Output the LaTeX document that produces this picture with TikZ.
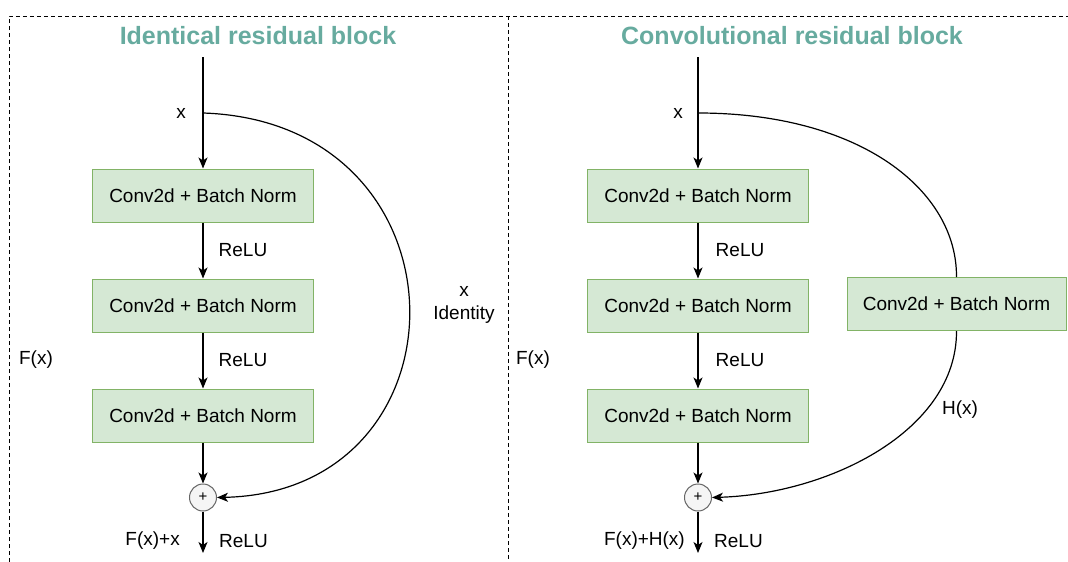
\documentclass[tikz,border=0pt]{standalone}
\usepackage{fontspec}
\setmainfont{Liberation Sans}
\usetikzlibrary{arrows.meta}
\definecolor{titlegreen}{HTML}{67AB9F}
\definecolor{boxfill}{HTML}{D5E8D4}
\definecolor{boxline}{HTML}{82B366}
\definecolor{sumfill}{HTML}{F5F5F5}
\definecolor{sumline}{HTML}{666666}
\tikzset{
  layer/.style={draw=boxline, fill=boxfill, line width=1pt, minimum width=221pt,
    minimum height=53pt, inner sep=0pt, font=\fontsize{19}{22}\selectfont},
  lbl/.style={inner sep=0pt, font=\fontsize{19}{22}\selectfont, align=center},
  title/.style={inner sep=0pt, text=titlegreen, font=\fontsize{25}{28}\selectfont\bfseries},
  sum/.style={circle, draw=sumline, fill=sumfill, line width=1pt, minimum size=27pt,
    inner sep=0pt, font=\fontsize{15}{15}\selectfont},
  flow/.style={line width=1.2pt, -{Stealth[length=11pt,width=9pt,inset=3pt]}},
  wire/.style={line width=1.2pt},
  frame/.style={line width=0.8pt, dash pattern=on 4pt off 3pt},
}
\begin{document}
\begin{tikzpicture}[x=1pt,y=-1pt]
\useasboundingbox (0,0) rectangle (1068,562);

% panel frames
\draw[frame] (9,562) -- (9,16) -- (1068,16);
\draw[frame] (508,16) -- (508,562);

% ---------- identical residual block ----------
\node[title] (t1) at (258,36) {Identical residual block};
\coordinate (in1) at (203,57);
\coordinate (s1) at (203,113);
\node[layer] (a1) at (203,195.5) {Conv2d + Batch Norm};
\node[layer] (a2) at (203,305.5) {Conv2d + Batch Norm};
\node[layer] (a3) at (203,415.5) {Conv2d + Batch Norm};
\node[sum] (p1) at (203,497.5) {+};
\coordinate (o1) at (203,553);

\draw[flow] (in1) -- (a1);
\draw[flow] (a1) -- (a2);
\draw[flow] (a2) -- (a3);
\draw[flow] (a3) -- (p1);
\draw[flow] (p1) -- (o1);
\draw[flow] (s1) .. controls (475,122) and (475,492) .. (p1.east);

\node[lbl] (lx1) at (181,113) {x};
\node[lbl] (r11) at (243,250) {ReLU};
\node[lbl] (r12) at (243,360) {ReLU};
\node[lbl] (f1) at (36,360) {F(x)};
\node[lbl] (id1) at (464,305) {x\\[1pt]Identity};
\node[lbl, anchor=east] (sum1) at (180,541) {F(x)+x};
\node[lbl, anchor=west] (r13) at (219,541) {ReLU};

% ---------- convolutional residual block ----------
\node[title] (t2) at (792,36) {Convolutional residual block};
\coordinate (in2) at (698,57);
\coordinate (s2) at (698,113);
\node[layer] (b1) at (698,195.5) {Conv2d + Batch Norm};
\node[layer] (b2) at (698,305.5) {Conv2d + Batch Norm};
\node[layer] (b3) at (698,415.5) {Conv2d + Batch Norm};
\node[layer, minimum width=219pt] (sc) at (956.5,304) {Conv2d + Batch Norm};
\node[sum] (p2) at (698,497.5) {+};
\coordinate (o2) at (698,553);

\draw[flow] (in2) -- (b1);
\draw[flow] (b1) -- (b2);
\draw[flow] (b2) -- (b3);
\draw[flow] (b3) -- (p2);
\draw[flow] (p2) -- (o2);
\draw[wire] (s2) .. controls (860,113) and (957,190) .. (sc.north);
\draw[flow] (sc.south) .. controls (957,430) and (830,494) .. (p2.east);

\node[lbl] (lx2) at (678,113) {x};
\node[lbl] (r21) at (740,250) {ReLU};
\node[lbl] (r22) at (740,360) {ReLU};
\node[lbl] (f2) at (533,360) {F(x)};
\node[lbl] (hx) at (960,410) {H(x)};
\node[lbl, anchor=east] (sum2) at (685,541) {F(x)+H(x)};
\node[lbl, anchor=west] (r23) at (714,541) {ReLU};
\end{tikzpicture}
\end{document}
